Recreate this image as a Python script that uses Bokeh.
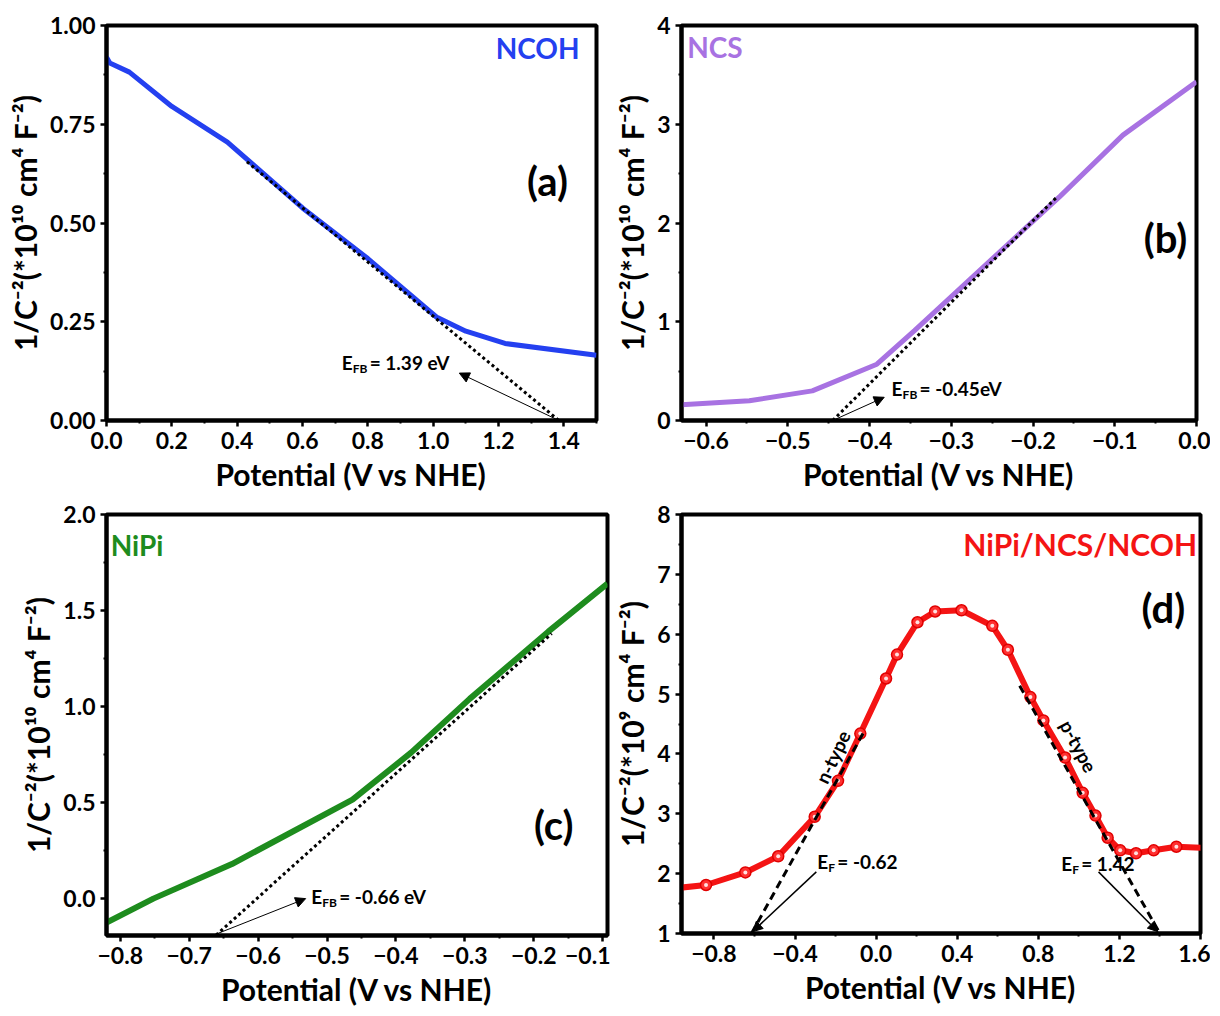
from bokeh.plotting import figure
from bokeh.layouts import column, row
from bokeh.models import Range1d, FixedTicker, Arrow, NormalHead
from bokeh.embed import file_html
from bokeh.resources import INLINE
from bokeh.core.properties import value

FONT = "Lato"

# ---------------- data ----------------
# (a) NCOH
ncoh_v = [0.0, 0.01, 0.07, 0.20, 0.37, 0.60, 0.80, 1.01, 1.10, 1.22, 1.50]
ncoh_c = [0.92, 0.905, 0.882, 0.795, 0.705, 0.538, 0.41, 0.262, 0.226, 0.195, 0.165]
ncoh_fit_v = [0.43, 1.385]
ncoh_fit_c = [0.655, 0.0]
ncoh_arrow = [1.385, 0.0, 1.08, 0.12]
ncoh_note = (0.72, 0.147, "FB", "= 1.39 eV")

# (b) NCS
ncs_v = [-0.63, -0.547, -0.47, -0.391, -0.345, -0.167, -0.09, 0.0]
ncs_c = [0.16, 0.20, 0.30, 0.57, 0.91, 2.27, 2.89, 3.43]
ncs_fit_v = [-0.445, -0.17]
ncs_fit_c = [0.0, 2.27]
ncs_arrow = [-0.445, 0.0, -0.382, 0.235]
ncs_note = (-0.373, 0.32, "FB", "= -0.45eV")

# (c) NiPi
nipi_v = [-0.82, -0.752, -0.638, -0.463, -0.378, -0.293, -0.179, -0.093]
nipi_c = [-0.125, 0.0, 0.18, 0.515, 0.76, 1.04, 1.39, 1.64]
nipi_fit_v = [-0.661, -0.174]
nipi_fit_c = [-0.19, 1.38]
nipi_arrow = [-0.661, -0.185, -0.531, 0.0]
nipi_note = (-0.523, 0.01, "FB", "= -0.66 eV")

# (d) NiPi/NCS/NCOH
het_v = [-0.98, -0.839, -0.645, -0.483, -0.303, -0.188, -0.078, 0.049, 0.103, 0.204, 0.291,
         0.421, 0.573, 0.650, 0.761, 0.825, 0.932, 1.019, 1.082, 1.142, 1.204, 1.282,
         1.369, 1.481, 1.62]
het_c = [1.76, 1.81, 2.02, 2.29, 2.95, 3.55, 4.34, 5.26, 5.66, 6.20, 6.38,
         6.40, 6.14, 5.74, 4.95, 4.56, 3.94, 3.35, 2.97, 2.60, 2.39, 2.34,
         2.39, 2.45, 2.43]
n_fit_v = [-0.615, -0.06]
n_fit_c = [1.0, 4.37]
p_fit_v = [0.708, 1.40]
p_fit_c = [5.14, 1.0]
n_arrow = [-0.295, 2.03, -0.61, 1.03]
p_arrow = [1.097, 2.03, 1.39, 1.03]
n_note = (-0.29, 2.2, "F", "= -0.62")
p_note = (0.913, 2.17, "F", "= 1.42")

# ticks
a_xt = [0.0, 0.2, 0.4, 0.6, 0.8, 1.0, 1.2, 1.4]
a_xl = ["0.0", "0.2", "0.4", "0.6", "0.8", "1.0", "1.2", "1.4"]
a_yt = [0.0, 0.25, 0.5, 0.75, 1.0]
a_yl = ["0.00", "0.25", "0.50", "0.75", "1.00"]
b_xt = [-0.6, -0.5, -0.4, -0.3, -0.2, -0.1, 0.0]
b_xl = ["\u22120.6", "\u22120.5", "\u22120.4", "\u22120.3", "\u22120.2", "\u22120.1", "0.0"]
b_yt = [0, 1, 2, 3, 4]
b_yl = ["0", "1", "2", "3", "4"]
c_xt = [-0.8, -0.7, -0.6, -0.5, -0.4, -0.3, -0.2, -0.1]
c_xl = ["\u22120.8", "\u22120.7", "\u22120.6", "\u22120.5", "\u22120.4", "\u22120.3", "\u22120.2", "\u22120.1"]
c_yt = [0.0, 0.5, 1.0, 1.5, 2.0]
c_yl = ["0.0", "0.5", "1.0", "1.5", "2.0"]
d_xt = [-0.8, -0.4, 0.0, 0.4, 0.8, 1.2, 1.6]
d_xl = ["\u22120.8", "\u22120.4", "0.0", "0.4", "0.8", "1.2", "1.6"]
d_yt = [1, 2, 3, 4, 5, 6, 7, 8]
d_yl = ["1", "2", "3", "4", "5", "6", "7", "8"]

XTITLE = "Potential (V vs NHE)"
YTITLE10 = "1/C\u207b\u00b2(*10\u00b9\u2070 cm\u2074 F\u207b\u00b2)"
YTITLE9 = "1/C\u207b\u00b2(*10\u2079 cm\u2074 F\u207b\u00b2)"


def minors(t):
    return [(t[i] + t[i + 1]) / 2 for i in range(len(t) - 1)] + [t[-1] + (t[-1] - t[-2]) / 2, t[0] - (t[1] - t[0]) / 2]


def make(xr, yr, xt, xl, yt, yl, ytitle, fw, fh, bl, br, bt, bb):
    p = figure(frame_width=fw, frame_height=fh, x_range=Range1d(*xr), y_range=Range1d(*yr),
               min_border_left=bl, min_border_right=br, min_border_top=bt, min_border_bottom=bb,
               output_backend="svg", toolbar_location=None)
    p.grid.visible = False
    p.outline_line_color = "black"
    p.outline_line_width = 4
    p.outline_line_alpha = 1.0
    p.xaxis.ticker = FixedTicker(ticks=xt, minor_ticks=minors(xt))
    p.yaxis.ticker = FixedTicker(ticks=yt, minor_ticks=minors(yt))
    p.xaxis.major_label_overrides = {t: l for t, l in zip(xt, xl)}
    p.yaxis.major_label_overrides = {t: l for t, l in zip(yt, yl)}
    p.xaxis.axis_label = XTITLE
    p.yaxis.axis_label = ytitle
    for ax in (p.xaxis[0], p.yaxis[0]):
        ax.axis_line_width = 4
        ax.major_tick_line_width = 2.5
        ax.minor_tick_line_width = 2
        ax.major_tick_out = 6
        ax.major_tick_in = 0
        ax.minor_tick_out = 3
        ax.minor_tick_in = 0
        ax.major_label_standoff = 5
        ax.major_label_text_font = FONT
        ax.major_label_text_font_style = "bold"
        ax.major_label_text_font_size = "23px"
        ax.major_label_text_color = "black"
        ax.axis_label_text_font = FONT
        ax.axis_label_text_font_style = "bold"
        ax.axis_label_text_font_size = "30px"
        ax.axis_label_text_color = "black"
        ax.axis_label_standoff = 4
    return p


def note(p, x, y, sub, rest, size=19):
    common = dict(text_font=value(FONT), text_font_style="bold", text_color="black",
                  text_baseline="middle", text_align="left")
    p.text(x=[x], y=[y], text=["E"], text_font_size=f"{size}px", **common)
    p.text(x=[x], y=[y], text=[sub], text_font_size=f"{int(size*0.68)}px",
           x_offset=11, y_offset=6, **common)
    p.text(x=[x], y=[y], text=[rest], text_font_size=f"{size}px",
           x_offset=12 + 8 * len(sub), **common)


def arrow(p, a, w=1.0):
    p.add_layout(Arrow(end=NormalHead(size=10, fill_color="black", line_color="black", line_width=1),
                       x_start=a[0], y_start=a[1], x_end=a[2], y_end=a[3],
                       line_color="black", line_width=w))


def tag(p, x, y, txt, color, size, align):
    p.text(x=[x], y=[y], text=[txt], text_font=value(FONT), text_font_style="bold",
           text_font_size=f"{size}px", text_color=color, text_align=align, text_baseline="middle")


# layout borders (shared so frame alignment does not matter)
L1, L2, R, T1, T2 = 106, 71, 14, 25, 15
DOT = dict(line_color="black", line_width=3, line_dash="3 3")
DASH = dict(line_color="black", line_width=3, line_dash="8 5")

# (a)
pa = make((0.0, 1.5), (0.0, 1.0), a_xt, a_xl, a_yt, a_yl, YTITLE10, 490, 395, L1, 610 - L1 - 490, T1, 77)
pa.line(ncoh_v, ncoh_c, line_color="#2440F0", line_width=5)
pa.line(ncoh_fit_v, ncoh_fit_c, **DOT)
arrow(pa, ncoh_arrow)
note(pa, *ncoh_note)
tag(pa, 1.448, 0.944, "NCOH", "#2440F0", 28, "right")
tag(pa, 1.35, 0.607, "(a)", "black", 40, "center")

# (b)
pb = make((-0.63, 0.0), (0.0, 4.0), b_xt, b_xl, b_yt, b_yl, YTITLE10, 515, 395, L2, R, T1, 77)
pb.line(ncs_v, ncs_c, line_color="#A872E2", line_width=5)
pb.line(ncs_fit_v, ncs_fit_c, **DOT)
arrow(pb, ncs_arrow)
note(pb, *ncs_note)
tag(pb, -0.623, 3.78, "NCS", "#A872E2", 28, "left")
tag(pb, -0.038, 1.85, "(b)", "black", 40, "center")

# (c)
pc = make((-0.82, -0.093), (-0.192, 2.0), c_xt, c_xl, c_yt, c_yl, YTITLE10, 501, 421, L1, 610 - L1 - 501, T2 + 2, 73)
pc.line(nipi_v, nipi_c, line_color="#1E8C1E", line_width=6)
pc.line(nipi_fit_v, nipi_fit_c, **DOT)
arrow(pc, nipi_arrow)
note(pc, *nipi_note)
tag(pc, -0.814, 1.843, "NiPi", "#1E8C1E", 28, "left")
tag(pc, -0.171, 0.383, "(c)", "black", 40, "center")

# (d)
pd_ = make((-0.96, 1.6), (1.0, 8.0), d_xt, d_xl, d_yt, d_yl, YTITLE9, 519, 419, L2, 10, T2 + 2, 77)
pd_.line(het_v, het_c, line_color="#F41414", line_width=6)
pd_.scatter(het_v[1:-1], het_c[1:-1], marker="circle", size=11, fill_color="#FF3030",
            line_color="#E00000", line_width=1.5)
pd_.scatter(het_v[1:-1], het_c[1:-1], marker="circle", size=4, fill_color="#FFE0E0",
            line_color=None)
pd_.line(n_fit_v, n_fit_c, **DASH)
pd_.line(p_fit_v, p_fit_c, **DASH)
arrow(pd_, n_arrow, 1.5)
arrow(pd_, p_arrow, 1.5)
note(pd_, *n_note)
note(pd_, *p_note)
pd_.text(x=[-0.214], y=[3.95], text=["n-type"], angle=1.13, text_font=value(FONT),
         text_font_style="bold", text_font_size="19px", text_color="black",
         text_align="center", text_baseline="middle")
pd_.text(x=[1.0], y=[4.13], text=["p-type"], angle=-1.08, text_font=value(FONT),
         text_font_style="bold", text_font_size="19px", text_color="black",
         text_align="center", text_baseline="middle")
tag(pd_, 1.583, 7.50, "NiPi/NCS/NCOH", "#F41414", 30, "right")
tag(pd_, 1.417, 6.43, "(d)", "black", 40, "center")

layout = column(row(pa, pb), row(pc, pd_))
open("out.html", "w").write(file_html(layout, INLINE))
